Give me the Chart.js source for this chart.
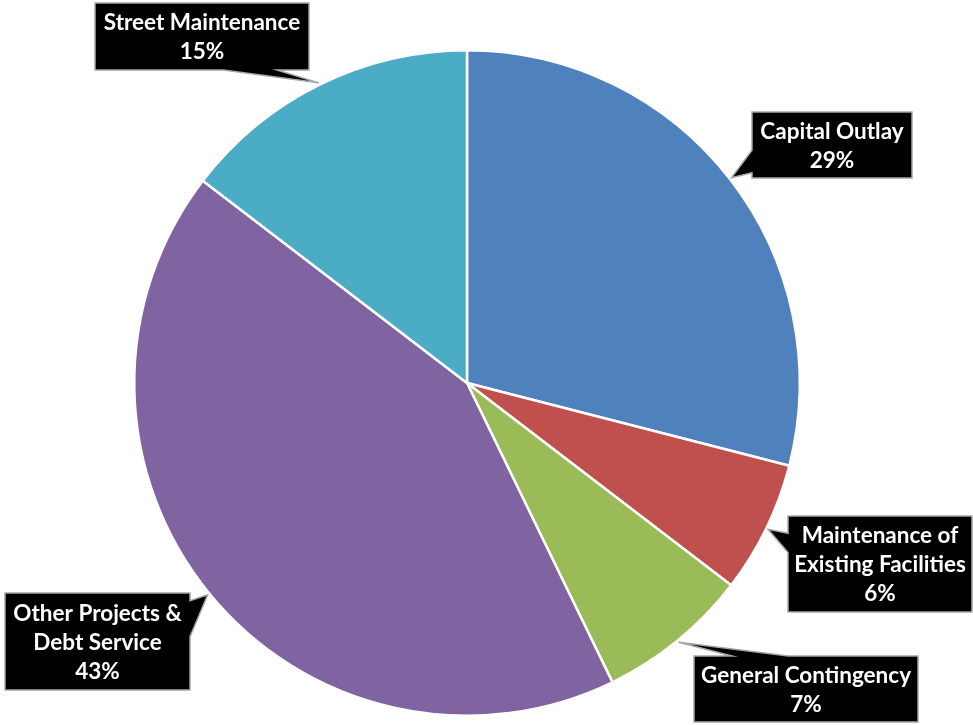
<!DOCTYPE html>
<html>
<head>
<meta charset="utf-8">
<script src="https://cdn.jsdelivr.net/npm/chart.js@4"></script>
<style>
  html, body { margin: 0; padding: 0; background: #fff; }
  #wrap { width: 973px; height: 725px; }
</style>
</head>
<body>
<div id="wrap"><canvas id="myChart"></canvas></div>
<script>
// data
const categorias = ['Capital Outlay', 'Maintenance of Existing Facilities', 'General Contingency', 'Other Projects & Debt Service', 'Street Maintenance'];
const porcentajes = [29.0, 6.4, 7.4, 42.6, 14.6];
const colores = ['#4F81BD', '#C0504D', '#9BBB59', '#8064A2', '#4BACC6'];
// label lines for each callout
const etiquetas = [
  ['Capital Outlay'],
  ['Maintenance of', 'Existing Facilities'],
  ['General Contingency'],
  ['Other Projects &', 'Debt Service'],
  ['Street Maintenance']
];

// callout boxes: x, y, w, h, side of the pointer, base of pointer along that side (0..1)
const cajas = [
  { x: 752, y: 112, w: 160, h: 66, lado: 'left', a: 0.58, b: 0.92 },
  { x: 788, y: 516, w: 184, h: 96, lado: 'left', a: 0.18, b: 0.38 },
  { x: 694, y: 656, w: 224, h: 66, lado: 'top', a: 0.17, b: 0.42 },
  { x: 5, y: 593, w: 185, h: 97, lado: 'right', a: 0.08, b: 0.45 },
  { x: 95, y: 3, w: 214, h: 67, lado: 'bottom', a: 0.60, b: 0.85 }
];

function trazarCaja(ctx, c, tip) {
  const x0 = c.x, y0 = c.y, x1 = c.x + c.w, y1 = c.y + c.h;
  ctx.beginPath();
  ctx.moveTo(x0, y0);
  if (c.lado === 'top') {
    ctx.lineTo(x0 + c.w * c.a, y0); ctx.lineTo(tip.x, tip.y); ctx.lineTo(x0 + c.w * c.b, y0);
  }
  ctx.lineTo(x1, y0);
  if (c.lado === 'right') {
    ctx.lineTo(x1, y0 + c.h * c.a); ctx.lineTo(tip.x, tip.y); ctx.lineTo(x1, y0 + c.h * c.b);
  }
  ctx.lineTo(x1, y1);
  if (c.lado === 'bottom') {
    ctx.lineTo(x0 + c.w * c.b, y1); ctx.lineTo(tip.x, tip.y); ctx.lineTo(x0 + c.w * c.a, y1);
  }
  ctx.lineTo(x0, y1);
  if (c.lado === 'left') {
    ctx.lineTo(x0, y0 + c.h * c.b); ctx.lineTo(tip.x, tip.y); ctx.lineTo(x0, y0 + c.h * c.a);
  }
  ctx.closePath();
  ctx.fillStyle = '#000';
  ctx.fill();
  ctx.lineWidth = 1.5;
  ctx.strokeStyle = '#a6a6a6';
  ctx.stroke();
}

const calloutPlugin = {
  id: 'callouts',
  afterDatasetsDraw(chart) {
    const ctx = chart.ctx;
    const meta = chart.getDatasetMeta(0);
    ctx.save();
    meta.data.forEach((arc, i) => {
      const p = arc.getProps(['x', 'y', 'startAngle', 'endAngle', 'outerRadius']);
      const mid = (p.startAngle + p.endAngle) / 2;
      const r = p.outerRadius + 2;
      const tip = { x: p.x + Math.cos(mid) * r, y: p.y + Math.sin(mid) * r };
      const c = cajas[i];
      trazarCaja(ctx, c, tip);
      const lineas = etiquetas[i].concat([Math.round(porcentajes[i]) + '%']);
      ctx.fillStyle = '#fff';
      ctx.font = 'bold 22.5px Lato';
      ctx.textAlign = 'center';
      ctx.textBaseline = 'middle';
      const lh = 29;
      const cy = c.y + c.h / 2 - (lineas.length - 1) * lh / 2;
      lineas.forEach((t, k) => ctx.fillText(t, c.x + c.w / 2, cy + k * lh + 1));
    });
    ctx.restore();
  }
};

const grafico = document.getElementById('myChart');
new Chart(grafico, {
  type: 'pie',
  data: {
    labels: categorias,
    datasets: [{
      data: porcentajes,
      backgroundColor: colores,
      borderColor: '#ffffff',
      borderWidth: 2.5
    }]
  },
  options: {
    responsive: true,
    maintainAspectRatio: false,
    animation: false,
    layout: { padding: { top: 49, bottom: 8, left: 133, right: 172 } },
    plugins: {
      legend: { display: false },
      tooltip: { enabled: false }
    }
  },
  plugins: [calloutPlugin]
});
</script>
</body>
</html>
